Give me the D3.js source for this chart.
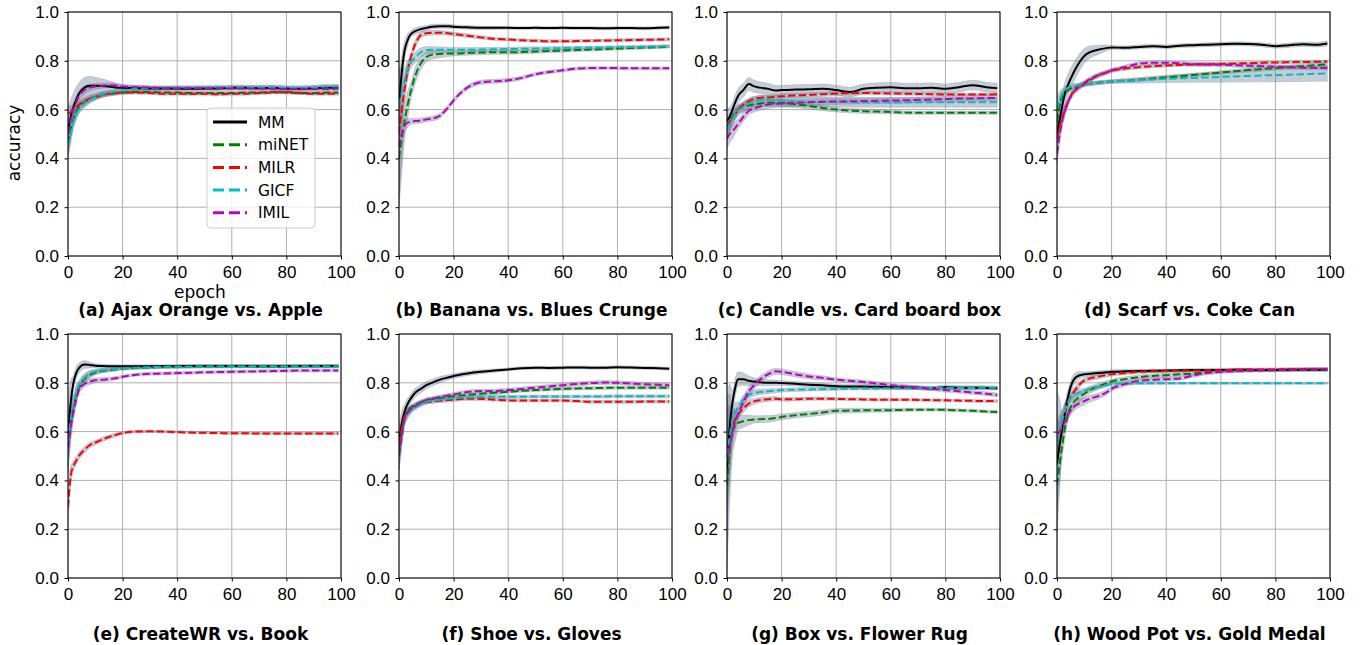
<!DOCTYPE html>
<html>
<head>
<meta charset="utf-8">
<style>
  body { margin: 0; background: #fff; }
  svg { display: block; font-family: "DejaVu Sans", sans-serif; }
  .tick text { font-size: 17px; fill: #000; }
  .tick line { stroke: #000; }
  .grid line { stroke: #b0b0b0; stroke-width: 1; }
  .title { font-size: 17px; font-weight: bold; }
  .axis-label { font-size: 17px; }
  .legend text { font-size: 15.5px; }
</style>
</head>
<body>
<svg width="1361" height="645"></svg>
<script src="https://d3js.org/d3.v7.min.js"></script>
<script>
const epochs = [0, 1, 2, 3, 4, 6, 8, 10, 12, 15, 18, 20, 25, 30, 35, 40, 45, 50, 55, 60, 65, 70, 75, 80, 85, 90, 95, 99];
// epochs for the spread (shaded band half-width)
const sdEpochs = [0, 2, 4, 10, 20, 40, 70, 99];

const methods = ["MM", "miNET", "MILR", "GICF", "IMIL"];
const titles = [
  "(a) Ajax Orange vs. Apple",
  "(b) Banana vs. Blues Crunge",
  "(c) Candle vs. Card board box",
  "(d) Scarf vs. Coke Can",
  "(e) CreateWR vs. Book",
  "(f) Shoe vs. Gloves",
  "(g) Box vs. Flower Rug",
  "(h) Wood Pot vs. Gold Medal"
];
const xTicks = [0, 20, 40, 60, 80, 100];
const yTicks = [0, 0.2, 0.4, 0.6, 0.8, 1.0];

// accuracy per panel, series in order MM, miNET, MILR, GICF, IMIL
const accA = [
  [0.52,0.57,0.61,0.64,0.665,0.69,0.698,0.698,0.697,0.695,0.69,0.69,0.688,0.686,0.686,0.686,0.685,0.686,0.686,0.69,0.69,0.688,0.69,0.686,0.685,0.688,0.69,0.69],
  [0.46,0.52,0.56,0.59,0.61,0.63,0.645,0.652,0.66,0.665,0.668,0.67,0.672,0.672,0.67,0.67,0.668,0.668,0.668,0.668,0.67,0.67,0.672,0.67,0.668,0.668,0.67,0.67],
  [0.585,0.59,0.6,0.61,0.62,0.635,0.645,0.652,0.658,0.665,0.668,0.67,0.67,0.668,0.665,0.665,0.664,0.665,0.663,0.665,0.665,0.668,0.67,0.672,0.668,0.665,0.665,0.665],
  [0.45,0.5,0.55,0.58,0.6,0.625,0.64,0.65,0.66,0.67,0.675,0.678,0.685,0.688,0.688,0.69,0.69,0.69,0.692,0.69,0.69,0.692,0.692,0.69,0.69,0.692,0.695,0.695],
  [0.5,0.56,0.6,0.63,0.655,0.68,0.69,0.695,0.698,0.7,0.698,0.695,0.692,0.69,0.688,0.688,0.688,0.688,0.688,0.686,0.686,0.686,0.685,0.684,0.685,0.684,0.684,0.685]
];
const accB = [
  [0.62,0.75,0.84,0.88,0.905,0.922,0.93,0.935,0.94,0.942,0.942,0.94,0.937,0.935,0.935,0.935,0.934,0.935,0.934,0.935,0.934,0.934,0.933,0.934,0.934,0.933,0.935,0.937],
  [0.4,0.48,0.55,0.61,0.66,0.74,0.79,0.815,0.825,0.828,0.83,0.83,0.832,0.834,0.835,0.835,0.836,0.838,0.84,0.842,0.844,0.846,0.848,0.85,0.852,0.854,0.856,0.858],
  [0.5,0.6,0.68,0.75,0.8,0.87,0.905,0.913,0.915,0.915,0.913,0.91,0.903,0.896,0.89,0.887,0.884,0.882,0.88,0.88,0.881,0.882,0.883,0.884,0.885,0.886,0.887,0.888],
  [0.62,0.67,0.72,0.76,0.785,0.815,0.835,0.843,0.845,0.845,0.845,0.845,0.845,0.846,0.847,0.848,0.849,0.85,0.851,0.852,0.853,0.854,0.855,0.856,0.857,0.858,0.859,0.86],
  [0.447,0.5,0.535,0.545,0.55,0.553,0.555,0.56,0.563,0.575,0.61,0.638,0.69,0.712,0.716,0.72,0.73,0.745,0.754,0.761,0.768,0.77,0.77,0.77,0.769,0.769,0.769,0.769]
];
const accC = [
  [0.554,0.57,0.6,0.63,0.655,0.68,0.705,0.695,0.69,0.685,0.678,0.68,0.682,0.683,0.685,0.68,0.672,0.685,0.69,0.692,0.688,0.688,0.69,0.685,0.692,0.7,0.692,0.688],
  [0.52,0.55,0.57,0.585,0.6,0.61,0.618,0.622,0.625,0.628,0.628,0.627,0.622,0.615,0.607,0.6,0.596,0.593,0.592,0.59,0.588,0.587,0.587,0.587,0.587,0.587,0.587,0.587],
  [0.53,0.55,0.565,0.58,0.6,0.62,0.635,0.645,0.648,0.65,0.652,0.655,0.658,0.66,0.663,0.666,0.668,0.668,0.667,0.666,0.665,0.664,0.663,0.662,0.662,0.662,0.662,0.663],
  [0.52,0.54,0.56,0.58,0.595,0.61,0.625,0.633,0.638,0.64,0.638,0.636,0.634,0.632,0.632,0.632,0.631,0.63,0.63,0.63,0.63,0.63,0.63,0.63,0.63,0.63,0.63,0.63],
  [0.48,0.5,0.51,0.525,0.54,0.57,0.595,0.605,0.612,0.62,0.624,0.625,0.628,0.63,0.632,0.633,0.634,0.635,0.636,0.637,0.638,0.64,0.641,0.643,0.645,0.646,0.647,0.648]
];
const accD = [
  [0.5,0.56,0.62,0.67,0.7,0.75,0.79,0.82,0.835,0.845,0.852,0.855,0.853,0.857,0.86,0.857,0.862,0.864,0.866,0.868,0.87,0.869,0.866,0.86,0.864,0.868,0.866,0.871],
  [0.55,0.62,0.655,0.67,0.68,0.69,0.697,0.703,0.706,0.71,0.713,0.715,0.718,0.722,0.727,0.732,0.737,0.742,0.747,0.752,0.757,0.762,0.766,0.77,0.774,0.778,0.782,0.786],
  [0.48,0.53,0.57,0.6,0.63,0.675,0.695,0.71,0.725,0.74,0.752,0.76,0.768,0.774,0.778,0.781,0.783,0.785,0.786,0.787,0.789,0.79,0.792,0.793,0.794,0.795,0.796,0.797],
  [0.6,0.64,0.665,0.68,0.69,0.697,0.7,0.703,0.706,0.71,0.713,0.715,0.718,0.72,0.723,0.726,0.728,0.73,0.732,0.734,0.736,0.738,0.74,0.741,0.743,0.745,0.747,0.748],
  [0.42,0.5,0.56,0.6,0.63,0.67,0.69,0.705,0.72,0.74,0.752,0.76,0.775,0.788,0.792,0.792,0.79,0.786,0.785,0.784,0.782,0.78,0.778,0.776,0.774,0.772,0.771,0.77]
];
const accE = [
  [0.58,0.72,0.8,0.84,0.86,0.875,0.873,0.87,0.869,0.868,0.868,0.868,0.868,0.868,0.868,0.868,0.869,0.869,0.869,0.869,0.869,0.868,0.868,0.868,0.869,0.869,0.869,0.869],
  [0.55,0.64,0.7,0.75,0.78,0.815,0.832,0.842,0.848,0.852,0.856,0.858,0.861,0.863,0.865,0.866,0.867,0.867,0.867,0.868,0.868,0.868,0.868,0.868,0.868,0.868,0.868,0.868],
  [0.29,0.42,0.46,0.48,0.5,0.525,0.545,0.555,0.565,0.578,0.588,0.594,0.6,0.601,0.6,0.598,0.596,0.595,0.594,0.593,0.593,0.592,0.592,0.592,0.592,0.592,0.592,0.592],
  [0.56,0.65,0.71,0.76,0.79,0.82,0.838,0.846,0.85,0.854,0.857,0.859,0.862,0.864,0.865,0.866,0.866,0.867,0.867,0.867,0.867,0.867,0.867,0.867,0.867,0.867,0.867,0.867],
  [0.53,0.62,0.68,0.73,0.77,0.795,0.805,0.81,0.812,0.815,0.82,0.825,0.833,0.837,0.838,0.84,0.841,0.843,0.844,0.845,0.846,0.847,0.848,0.849,0.85,0.85,0.85,0.85]
];
const accF = [
  [0.55,0.63,0.68,0.71,0.73,0.76,0.775,0.79,0.8,0.813,0.822,0.828,0.838,0.845,0.85,0.855,0.86,0.862,0.861,0.862,0.863,0.862,0.862,0.864,0.863,0.861,0.86,0.858],
  [0.52,0.6,0.66,0.68,0.695,0.71,0.72,0.728,0.733,0.738,0.742,0.745,0.75,0.755,0.759,0.763,0.767,0.77,0.773,0.775,0.777,0.778,0.779,0.78,0.78,0.78,0.78,0.78],
  [0.55,0.61,0.66,0.68,0.69,0.705,0.714,0.72,0.723,0.726,0.729,0.731,0.735,0.734,0.731,0.728,0.727,0.727,0.727,0.727,0.725,0.722,0.722,0.722,0.722,0.723,0.723,0.723],
  [0.5,0.58,0.64,0.665,0.68,0.7,0.712,0.722,0.727,0.731,0.735,0.737,0.74,0.742,0.743,0.743,0.743,0.744,0.744,0.744,0.744,0.744,0.744,0.745,0.745,0.745,0.745,0.745],
  [0.5,0.58,0.65,0.675,0.69,0.705,0.72,0.73,0.735,0.742,0.748,0.752,0.762,0.766,0.766,0.77,0.775,0.78,0.785,0.79,0.795,0.799,0.801,0.8,0.797,0.794,0.792,0.79]
];
const accG = [
  [0.45,0.62,0.72,0.78,0.815,0.815,0.808,0.805,0.802,0.8,0.8,0.799,0.796,0.792,0.79,0.786,0.785,0.785,0.784,0.782,0.781,0.78,0.777,0.782,0.78,0.78,0.779,0.778],
  [0.38,0.53,0.6,0.625,0.635,0.643,0.647,0.65,0.651,0.652,0.656,0.66,0.667,0.672,0.678,0.685,0.686,0.687,0.687,0.688,0.689,0.69,0.69,0.689,0.687,0.685,0.682,0.68],
  [0.5,0.57,0.62,0.65,0.67,0.695,0.715,0.724,0.729,0.733,0.735,0.732,0.733,0.735,0.735,0.734,0.733,0.732,0.731,0.731,0.731,0.73,0.729,0.728,0.727,0.726,0.725,0.725],
  [0.5,0.58,0.65,0.68,0.7,0.73,0.75,0.758,0.762,0.765,0.768,0.77,0.772,0.773,0.774,0.775,0.776,0.777,0.777,0.778,0.778,0.778,0.779,0.779,0.779,0.779,0.78,0.78],
  [0.48,0.54,0.6,0.64,0.67,0.72,0.765,0.79,0.812,0.835,0.847,0.845,0.835,0.826,0.82,0.813,0.808,0.803,0.797,0.79,0.785,0.78,0.775,0.77,0.765,0.76,0.755,0.75]
];
const accH = [
  [0.47,0.55,0.62,0.68,0.74,0.81,0.83,0.835,0.837,0.84,0.843,0.845,0.847,0.848,0.849,0.85,0.851,0.852,0.852,0.852,0.853,0.853,0.852,0.852,0.853,0.853,0.853,0.853],
  [0.38,0.47,0.55,0.62,0.67,0.72,0.74,0.755,0.77,0.785,0.797,0.805,0.815,0.823,0.828,0.831,0.835,0.838,0.845,0.848,0.849,0.85,0.851,0.852,0.852,0.853,0.853,0.853],
  [0.55,0.6,0.65,0.69,0.72,0.76,0.79,0.81,0.818,0.825,0.832,0.835,0.84,0.845,0.847,0.848,0.849,0.85,0.851,0.852,0.853,0.854,0.855,0.855,0.856,0.856,0.857,0.857],
  [0.55,0.6,0.65,0.69,0.72,0.75,0.76,0.768,0.775,0.783,0.79,0.795,0.798,0.798,0.798,0.798,0.798,0.798,0.798,0.798,0.798,0.798,0.798,0.798,0.798,0.798,0.798,0.798],
  [0.59,0.6,0.62,0.645,0.67,0.7,0.715,0.725,0.735,0.745,0.76,0.775,0.795,0.808,0.812,0.815,0.818,0.83,0.84,0.845,0.848,0.85,0.851,0.852,0.853,0.855,0.856,0.857]
];

// half-width of the shaded band, at sdEpochs
const sdA = [
  [0.08,0.06,0.045,0.035,0.012,0.01,0.01,0.01],
  [0.05,0.03,0.02,0.012,0.008,0.006,0.006,0.006],
  [0.03,0.02,0.015,0.01,0.006,0.006,0.006,0.006],
  [0.05,0.03,0.02,0.012,0.008,0.008,0.008,0.008],
  [0.04,0.03,0.02,0.012,0.008,0.006,0.006,0.006]
];
const sdB = [
  [0.1,0.04,0.015,0.01,0.008,0.006,0.006,0.006],
  [0.2,0.08,0.04,0.02,0.01,0.008,0.006,0.006],
  [0.1,0.05,0.02,0.01,0.008,0.006,0.006,0.006],
  [0.15,0.05,0.025,0.015,0.01,0.008,0.006,0.006],
  [0.2,0.03,0.012,0.01,0.01,0.008,0.006,0.006]
];
const sdC = [
  [0.05,0.03,0.03,0.025,0.02,0.02,0.02,0.02],
  [0.04,0.025,0.02,0.015,0.015,0.01,0.006,0.006],
  [0.04,0.02,0.015,0.01,0.01,0.008,0.006,0.006],
  [0.04,0.03,0.02,0.02,0.02,0.02,0.02,0.02],
  [0.04,0.03,0.02,0.015,0.015,0.012,0.012,0.012]
];
const sdD = [
  [0.06,0.05,0.045,0.03,0.008,0.008,0.008,0.01],
  [0.05,0.02,0.01,0.008,0.006,0.006,0.008,0.01],
  [0.05,0.03,0.015,0.01,0.008,0.006,0.006,0.006],
  [0.05,0.02,0.01,0.008,0.008,0.015,0.025,0.032],
  [0.05,0.03,0.015,0.01,0.008,0.008,0.008,0.008]
];
const sdE = [
  [0.15,0.03,0.02,0.008,0.006,0.006,0.006,0.006],
  [0.12,0.04,0.02,0.01,0.006,0.006,0.006,0.006],
  [0.06,0.02,0.015,0.01,0.006,0.005,0.005,0.005],
  [0.1,0.04,0.02,0.01,0.006,0.006,0.006,0.006],
  [0.06,0.03,0.015,0.01,0.006,0.006,0.006,0.006]
];
const sdF = [
  [0.08,0.03,0.02,0.015,0.01,0.006,0.006,0.006],
  [0.06,0.02,0.012,0.008,0.008,0.006,0.006,0.006],
  [0.06,0.02,0.012,0.008,0.008,0.006,0.006,0.006],
  [0.06,0.02,0.012,0.008,0.008,0.006,0.006,0.006],
  [0.06,0.02,0.012,0.008,0.008,0.008,0.008,0.008]
];
const sdG = [
  [0.3,0.05,0.03,0.015,0.01,0.008,0.008,0.008],
  [0.35,0.1,0.03,0.015,0.012,0.01,0.006,0.006],
  [0.2,0.06,0.02,0.012,0.008,0.006,0.006,0.006],
  [0.2,0.06,0.02,0.012,0.008,0.006,0.006,0.006],
  [0.2,0.06,0.03,0.015,0.012,0.008,0.008,0.008]
];
const sdH = [
  [0.3,0.06,0.03,0.01,0.008,0.006,0.006,0.006],
  [0.1,0.05,0.03,0.015,0.01,0.008,0.006,0.006],
  [0.08,0.04,0.02,0.01,0.008,0.006,0.006,0.006],
  [0.1,0.04,0.02,0.01,0.006,0.004,0.004,0.004],
  [0.05,0.03,0.02,0.015,0.01,0.008,0.006,0.006]
];

const panelAcc = [accA, accB, accC, accD, accE, accF, accG, accH];
const panelSd = [sdA, sdB, sdC, sdD, sdE, sdF, sdG, sdH];

const colors = ["#000000", "#008000", "#ff0000", "#00bfbf", "#bf00bf"];
const dashes = [null, "7.4,3.2", "7.4,3.2", "7.4,3.2", "7.4,3.2"];

const svg = d3.select("svg");

// layout of the 2x4 grid
const lefts = [68, 399, 727, 1057];
const tops = [12, 334];
const w = 273, h = 244;

const x = d3.scaleLinear().domain([0, 100]).range([0, w]);
const y = d3.scaleLinear().domain([0, 1]).range([h, 0]);

panelAcc.forEach(function (acc, i) {
    let col = i % 4, row = Math.floor(i / 4);
    let g = svg.append("g")
        .attr("transform", `translate(${lefts[col]}, ${tops[row]})`);

    // grid
    let grid = g.append("g").attr("class", "grid");
    grid.selectAll(".gx").data(xTicks).join("line")
        .attr("x1", d => x(d)).attr("x2", d => x(d))
        .attr("y1", 0).attr("y2", h);
    grid.selectAll(".gy").data(yTicks).join("line")
        .attr("class", "gy")
        .attr("x1", 0).attr("x2", w)
        .attr("y1", d => y(d)).attr("y2", d => y(d));

    g.append("clipPath").attr("id", "clip" + i)
        .append("rect").attr("width", w).attr("height", h);

    let plot = g.append("g").attr("clip-path", `url(#clip${i})`);

    // shaded bands
    acc.forEach(function (vals, s) {
        let sd = d3.scaleLinear().domain(sdEpochs).range(panelSd[i][s]);
        let area = d3.area()
            .x((d, k) => x(epochs[k]))
            .y0((d, k) => y(d - sd(epochs[k])))
            .y1((d, k) => y(d + sd(epochs[k])))
            .curve(d3.curveMonotoneX);
        plot.append("path")
            .attr("d", area(vals))
            .attr("fill", "#6e8099")
            .attr("fill-opacity", 0.4)
            .attr("stroke", "#6e8099")
            .attr("stroke-opacity", 0.25)
            .attr("stroke-width", 1);
    });

    // lines
    let line = d3.line()
        .x((d, k) => x(epochs[k]))
        .y(d => y(d))
        .curve(d3.curveMonotoneX);
    acc.forEach(function (vals, s) {
        plot.append("path")
            .attr("d", line(vals))
            .attr("fill", "none")
            .attr("stroke", colors[s])
            .attr("stroke-width", 2)
            .attr("stroke-dasharray", dashes[s]);
    });

    // axes
    g.append("g")
        .attr("transform", `translate(0, ${h})`)
        .call(d3.axisBottom(x).tickValues(xTicks).tickSize(3.5).tickPadding(6).tickFormat(d3.format("d")))
        .call(a => a.select(".domain").remove())
        .call(a => a.selectAll("text").attr("font-family", null).attr("font-size", null));

    g.append("g")
        .call(d3.axisLeft(y).tickValues(yTicks).tickSize(3.5).tickPadding(5.5).tickFormat(d3.format(".1f")))
        .call(a => a.select(".domain").remove())
        .call(a => a.selectAll("text").attr("font-family", null).attr("font-size", null));

    g.append("rect")
        .attr("width", w).attr("height", h)
        .attr("fill", "none").attr("stroke", "#000").attr("stroke-width", 1);

    // subplot caption
    svg.append("text")
        .attr("class", "title")
        .attr("x", lefts[col] + w / 2 - 4)
        .attr("y", row == 0 ? 316 : 640)
        .attr("text-anchor", "middle")
        .text(titles[i]);

    if (i == 0) {
        svg.append("text")
            .attr("class", "axis-label")
            .attr("transform", "translate(20, 143) rotate(-90)")
            .attr("text-anchor", "middle")
            .text("accuracy");

        svg.append("text")
            .attr("class", "axis-label")
            .attr("x", 200)
            .attr("y", 298)
            .attr("text-anchor", "middle")
            .text("epoch");

        // legend
        let leg = g.append("g").attr("class", "legend")
            .attr("transform", "translate(139, 96)");
        leg.append("rect")
            .attr("width", 108).attr("height", 120)
            .attr("rx", 4)
            .attr("fill", "#fff").attr("fill-opacity", 0.8)
            .attr("stroke", "#cccccc").attr("stroke-width", 1);
        let item = leg.selectAll(".item").data(methods).join("g")
            .attr("class", "item")
            .attr("transform", (d, k) => `translate(0, ${14 + k * 22.7})`);
        item.append("line")
            .attr("x1", 6).attr("x2", 40)
            .attr("stroke", (d, k) => colors[k])
            .attr("stroke-width", 3)
            .attr("stroke-dasharray", (d, k) => k == 0 ? null : "11,5");
        item.append("text")
            .attr("x", 51)
            .attr("dy", "0.36em")
            .text(d => d);
    }
});
</script>
</body>
</html>
